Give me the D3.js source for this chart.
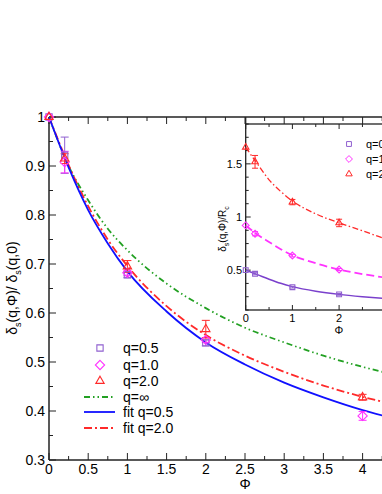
<!DOCTYPE html>
<html>
<head>
<meta charset="utf-8">
<script src="https://cdn.jsdelivr.net/npm/d3@7"></script>
<style>
  body { margin: 0; background: #fff; }
  svg { display: block; font-family: "Liberation Sans", Arial, sans-serif; }
</style>
</head>
<body>
<div id="chart"></div>
<script>
// ---- main panel data ----
const sqPhi = [0, 0.2, 1, 2];
const sqVal = [1.0, 0.922, 0.678, 0.539];
const sqErr = [0, 0.037, 0.006, 0.006];

const diPhi = [0, 0.2, 1, 2, 4];
const diVal = [1.0, 0.908, 0.682, 0.545, 0.39];
const diErr = [0, 0.022, 0.005, 0.005, 0.009];

const trPhi = [0, 0.2, 1, 2, 4];
const trVal = [1.0, 0.915, 0.695, 0.567, 0.428];
const trErr = [0, 0.01, 0.012, 0.018, 0.006];

const curvePhi = [0, 0.25, 0.5, 0.75, 1, 1.5, 2, 2.5, 3, 3.5, 4, 4.3];
const qInf = [1, 0.9, 0.83, 0.772, 0.728, 0.66, 0.61, 0.57, 0.54, 0.513, 0.49, 0.478];
const fit05 = [1, 0.897, 0.81, 0.742, 0.685, 0.603, 0.54, 0.495, 0.458, 0.428, 0.402, 0.389];
const fit20 = [1, 0.902, 0.818, 0.75, 0.696, 0.614, 0.555, 0.513, 0.48, 0.452, 0.429, 0.417];

// ticks that fall inside the visible part of the figure
const xTicks = [0, 0.5, 1, 1.5, 2, 2.5, 3, 3.5, 4];
const yTicks = [0.3, 0.4, 0.5, 0.6, 0.7, 0.8, 0.9, 1];

// ---- inset data ----
const inPhi = [0, 0.2, 1, 2];
const inSq = [0.5, 0.466, 0.34, 0.272];
const inSqErr = [0, 0.01, 0.008, 0.008];
const inDi = [0.921, 0.843, 0.637, 0.506];
const inDiErr = [0, 0.02, 0.012, 0.01];
const inTr = [1.656, 1.519, 1.14, 0.944];
const inTrErr = [0, 0.06, 0.025, 0.035];

const inCurvePhi = [0, 0.25, 0.5, 0.75, 1, 1.5, 2, 2.5, 3, 3.5, 4];
const inLine05 = [0.5, 0.458, 0.415, 0.376, 0.345, 0.302, 0.272, 0.25, 0.232, 0.218, 0.206];
const inLine10 = [0.92, 0.835, 0.765, 0.697, 0.64, 0.565, 0.506, 0.463, 0.43, 0.405, 0.385];
const inLine20 = [1.656, 1.5, 1.35, 1.24, 1.15, 1.03, 0.945, 0.87, 0.795, 0.74, 0.69];
const inXTicks = [0, 1, 2];
const inYTicks = [0.5, 1, 1.5];

const purple = "#9060d0", magenta = "#ff33ff", red = "#ff2a2a",
      green = "#22a022", blue = "#1010ff";

const width = 382, height = 494;
const svg = d3.select("#chart").append("svg")
  .attr("width", width).attr("height", height);

const x = d3.scaleLinear().domain([0, 5]).range([49, 441]);
const y = d3.scaleLinear().domain([0.3, 1]).range([460, 117]);

svg.append("clipPath").attr("id", "mainClip")
  .append("rect").attr("x", 49).attr("y", 100).attr("width", 392).attr("height", 360);

// axes frame
const axisCol = "#222";
svg.append("line").attr("x1", 49).attr("x2", 441).attr("y1", 460).attr("y2", 460).attr("stroke", axisCol).attr("stroke-width", 1.5);
svg.append("line").attr("x1", 49).attr("x2", 441).attr("y1", 117).attr("y2", 117).attr("stroke", axisCol).attr("stroke-width", 1.5);
svg.append("line").attr("x1", 49).attr("x2", 49).attr("y1", 117).attr("y2", 460).attr("stroke", axisCol).attr("stroke-width", 1.5);

// ticks
const xMinor = d3.range(0, 5.01, 0.25);
xMinor.forEach(v => {
  const major = Math.abs(v * 2 - Math.round(v * 2)) < 1e-6;
  const len = major ? 7 : 4;
  svg.append("line").attr("x1", x(v)).attr("x2", x(v)).attr("y1", 460).attr("y2", 460 - len).attr("stroke", axisCol);
  svg.append("line").attr("x1", x(v)).attr("x2", x(v)).attr("y1", 117).attr("y2", 117 + len).attr("stroke", axisCol);
});
const yMinor = d3.range(0.3, 1.001, 0.05);
yMinor.forEach(v => {
  const major = Math.abs(v * 10 - Math.round(v * 10)) < 1e-6;
  svg.append("line").attr("x1", 49).attr("x2", 49 + (major ? 7 : 4)).attr("y1", y(v)).attr("y2", y(v)).attr("stroke", axisCol);
});

svg.append("g").selectAll("text").data(xTicks).join("text")
  .attr("x", d => x(d)).attr("y", 474).attr("text-anchor", "middle")
  .attr("font-size", 14).text(d => d3.format("~g")(d));
svg.append("g").selectAll("text").data(yTicks).join("text")
  .attr("x", 45).attr("y", d => y(d) + 5).attr("text-anchor", "end")
  .attr("font-size", 14).text(d => d === 1 ? "1" : d3.format(".1f")(d));

svg.append("text").attr("x", 245).attr("y", 489).attr("text-anchor", "middle")
  .attr("font-size", 14).text("Φ");

const yl = svg.append("text").attr("transform", "translate(17,288) rotate(-90)")
  .attr("text-anchor", "middle").attr("font-size", 14);
yl.append("tspan").text("δ");
yl.append("tspan").attr("font-size", 9).attr("dy", 4).text("s");
yl.append("tspan").attr("dy", -4).text("(q,Φ)/ δ");
yl.append("tspan").attr("font-size", 9).attr("dy", 4).text("s");
yl.append("tspan").attr("dy", -4).text("(q,0)");

// curves
const plotG = svg.append("g").attr("clip-path", "url(#mainClip)");
const line = d3.line().x(d => x(d[0])).y(d => y(d[1])).curve(d3.curveMonotoneX);
const zip = (a, b) => a.map((v, i) => [v, b[i]]);
plotG.append("path").attr("d", line(zip(curvePhi, qInf))).attr("fill", "none")
  .attr("stroke", green).attr("stroke-width", 1.8).attr("stroke-dasharray", "6,3,1.5,3,1.5,3");
plotG.append("path").attr("d", line(zip(curvePhi, fit20))).attr("fill", "none")
  .attr("stroke", red).attr("stroke-width", 1.8).attr("stroke-dasharray", "8,3,2,3");
plotG.append("path").attr("d", line(zip(curvePhi, fit05))).attr("fill", "none")
  .attr("stroke", blue).attr("stroke-width", 1.8);

// markers
function errBars(g, xs, ys, es, col, sx, sy, cap) {
  xs.forEach((p, i) => {
    if (!es[i]) return;
    const cx = sx(p), y1 = sy(ys[i] - es[i]), y2 = sy(ys[i] + es[i]);
    g.append("line").attr("x1", cx).attr("x2", cx).attr("y1", y1).attr("y2", y2).attr("stroke", col);
    [y1, y2].forEach(yy => g.append("line").attr("x1", cx - cap).attr("x2", cx + cap)
      .attr("y1", yy).attr("y2", yy).attr("stroke", col));
  });
}
function symbols(g, xs, ys, type, size, col, sx, sy) {
  g.selectAll(null).data(xs.map((p, i) => [p, ys[i]])).join("path")
    .attr("transform", d => `translate(${sx(d[0])},${sy(d[1])})`)
    .attr("d", d3.symbol().type(type).size(size))
    .attr("fill", "none").attr("stroke", col).attr("stroke-width", 1.1);
}
const triType = d3.symbolTriangle2;
const mk = svg.append("g");
errBars(mk, sqPhi, sqVal, sqErr, purple, x, y, 4);
errBars(mk, diPhi, diVal, diErr, magenta, x, y, 4);
errBars(mk, trPhi, trVal, trErr, red, x, y, 4);
symbols(mk, sqPhi, sqVal, d3.symbolSquare2, 50, purple, x, y);
symbols(mk, diPhi, diVal, d3.symbolDiamond2, 55, magenta, x, y);
symbols(mk, trPhi, trVal, triType, 50, red, x, y);

// legend
const leg = svg.append("g").attr("font-size", 14);
const legNames = ["q=0.5", "q=1.0", "q=2.0", "q=∞", "fit q=0.5", "fit q=2.0"];
const legY = [348, 365, 381, 397, 412, 428];
[[d3.symbolSquare2, purple, 50], [d3.symbolDiamond2, magenta, 55], [triType, red, 50]].forEach((s, i) => {
  leg.append("path").attr("transform", `translate(100,${legY[i]})`)
    .attr("d", d3.symbol().type(s[0]).size(s[2])).attr("fill", "none")
    .attr("stroke", s[1]).attr("stroke-width", 1.1);
});
[[green, "6,3,1.5,3,1.5,3"], [blue, null], [red, "8,3,2,3"]].forEach((s, j) => {
  leg.append("line").attr("x1", 84).attr("x2", 115).attr("y1", legY[3 + j]).attr("y2", legY[3 + j])
    .attr("stroke", s[0]).attr("stroke-width", 1.8).attr("stroke-dasharray", s[1]);
});
legNames.forEach((t, i) => leg.append("text").attr("x", 123).attr("y", legY[i] + 5).text(t));

// ---- inset ----
const ix = d3.scaleLinear().domain([0, 4]).range([245.7, 432.5]);
const iy = d3.scaleLinear().domain([0.125, 1.875]).range([310, 124]);
svg.append("rect").attr("x", 245.7).attr("y", 124).attr("width", 187).attr("height", 186)
  .attr("fill", "#fff").attr("stroke", axisCol).attr("stroke-width", 1.3);
svg.append("line").attr("x1", 245.7).attr("x2", 245.7).attr("y1", 117).attr("y2", 124).attr("stroke", axisCol).attr("stroke-width", 1.3);

d3.range(0, 4.01, 0.5).forEach(v => {
  const len = Number.isInteger(v) ? 5 : 3;
  svg.append("line").attr("x1", ix(v)).attr("x2", ix(v)).attr("y1", 310).attr("y2", 310 - len).attr("stroke", axisCol);
  svg.append("line").attr("x1", ix(v)).attr("x2", ix(v)).attr("y1", 124).attr("y2", 124 + len).attr("stroke", axisCol);
});
d3.range(0.125, 1.876, 0.125).forEach(v => {
  const major = Math.abs(v * 2 - Math.round(v * 2)) < 1e-6;
  svg.append("line").attr("x1", 245.7).attr("x2", 245.7 + (major ? 5 : 3)).attr("y1", iy(v)).attr("y2", iy(v)).attr("stroke", axisCol);
});
svg.append("g").selectAll("text").data(inXTicks).join("text")
  .attr("x", d => ix(d)).attr("y", 322).attr("text-anchor", "middle")
  .attr("font-size", 11).text(d => d);
svg.append("g").selectAll("text").data(inYTicks).join("text")
  .attr("x", 242).attr("y", d => iy(d) + 4).attr("text-anchor", "end")
  .attr("font-size", 11).text(d => d);
svg.append("text").attr("x", 339).attr("y", 334).attr("text-anchor", "middle")
  .attr("font-size", 11).text("Φ");
const iyl = svg.append("text").attr("transform", "translate(226,229) rotate(-90)")
  .attr("text-anchor", "middle").attr("font-size", 10);
iyl.append("tspan").text("δ");
iyl.append("tspan").attr("font-size", 7).attr("dy", 3).text("s");
iyl.append("tspan").attr("dy", -3).text("(q,Φ)/R");
iyl.append("tspan").attr("font-size", 7).attr("dy", 3).text("c");

const iline = d3.line().x(d => ix(d[0])).y(d => iy(d[1])).curve(d3.curveMonotoneX);
svg.append("path").attr("d", iline(zip(inCurvePhi, inLine20))).attr("fill", "none")
  .attr("stroke", red).attr("stroke-width", 1.3).attr("stroke-dasharray", "6,2.5,1.5,2.5");
svg.append("path").attr("d", iline(zip(inCurvePhi, inLine10))).attr("fill", "none")
  .attr("stroke", magenta).attr("stroke-width", 1.8).attr("stroke-dasharray", "8,4");
svg.append("path").attr("d", iline(zip(inCurvePhi, inLine05))).attr("fill", "none")
  .attr("stroke", "#7a40cc").attr("stroke-width", 1.5);

const im = svg.append("g");
errBars(im, inPhi, inSq, inSqErr, purple, ix, iy, 3);
errBars(im, inPhi, inDi, inDiErr, magenta, ix, iy, 3);
errBars(im, inPhi, inTr, inTrErr, red, ix, iy, 3);
symbols(im, inPhi, inSq, d3.symbolSquare2, 30, purple, ix, iy);
symbols(im, inPhi, inDi, d3.symbolDiamond2, 30, magenta, ix, iy);
symbols(im, inPhi, inTr, triType, 30, red, ix, iy);

const ileg = svg.append("g").attr("font-size", 11);
const ilY = [144, 159, 174];
[[d3.symbolSquare2, purple], [d3.symbolDiamond2, magenta], [triType, red]].forEach((s, i) => {
  ileg.append("path").attr("transform", `translate(349,${ilY[i]})`)
    .attr("d", d3.symbol().type(s[0]).size(30)).attr("fill", "none")
    .attr("stroke", s[1]).attr("stroke-width", 1);
});
["q=0.5", "q=1.0", "q=2.0"].forEach((t, i) =>
  ileg.append("text").attr("x", 366).attr("y", ilY[i] + 4).text(t));
</script>
</body>
</html>
